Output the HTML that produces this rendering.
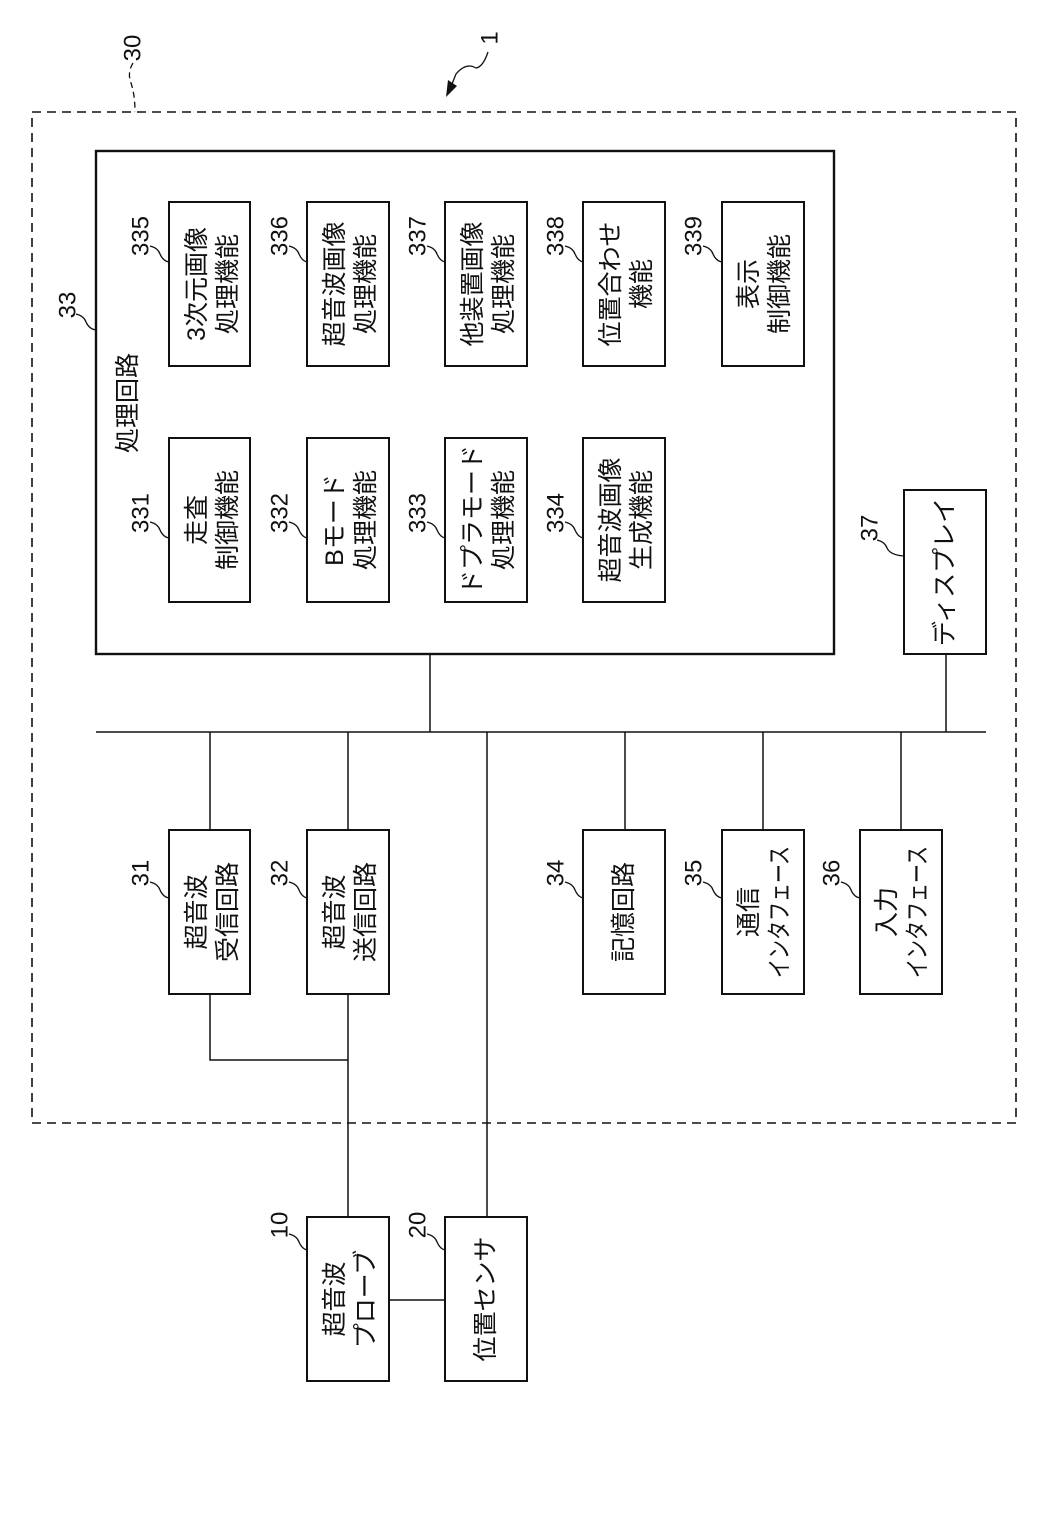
<!DOCTYPE html>
<html><head><meta charset="utf-8"><style>
html,body{margin:0;padding:0;background:#fff;}
svg{display:block}
text{font-family:"Liberation Sans","Noto Sans CJK JP",sans-serif;font-size:25px;fill:#111;}
.n{font-size:24px}
</style></head><body>
<svg width="1039" height="1528" viewBox="0 0 1039 1528" xmlns="http://www.w3.org/2000/svg">
<g fill="none" stroke="#111" stroke-width="2">
<rect x="32" y="112" width="984" height="1011" stroke-dasharray="9,6" stroke-width="1.6"/>
<rect x="96" y="151" width="738" height="503" stroke-width="2.4"/>
<rect x="169" y="202" width="81" height="164"/>
<rect x="307" y="202" width="82" height="164"/>
<rect x="445" y="202" width="82" height="164"/>
<rect x="583" y="202" width="82" height="164"/>
<rect x="722" y="202" width="82" height="164"/>
<rect x="169" y="438" width="81" height="164"/>
<rect x="307" y="438" width="82" height="164"/>
<rect x="445" y="438" width="82" height="164"/>
<rect x="583" y="438" width="82" height="164"/>
<rect x="904" y="490" width="82" height="164"/>
<rect x="169" y="830" width="81" height="164"/>
<rect x="307" y="830" width="82" height="164"/>
<rect x="583" y="830" width="82" height="164"/>
<rect x="722" y="830" width="82" height="164"/>
<rect x="860" y="830" width="82" height="164"/>
<rect x="307" y="1217" width="82" height="164"/>
<rect x="445" y="1217" width="82" height="164"/>
<g stroke-width="1.5">
<line x1="96" y1="732" x2="986" y2="732"/>
<line x1="430" y1="654" x2="430" y2="732"/>
<line x1="946" y1="654" x2="946" y2="732"/>
<line x1="210" y1="732" x2="210" y2="830"/>
<line x1="348" y1="732" x2="348" y2="830"/>
<line x1="487" y1="732" x2="487" y2="1217"/>
<line x1="625" y1="732" x2="625" y2="830"/>
<line x1="763" y1="732" x2="763" y2="830"/>
<line x1="901" y1="732" x2="901" y2="830"/>
<polyline points="210,994 210,1060 348,1060"/>
<line x1="348" y1="994" x2="348" y2="1217"/>
<line x1="389" y1="1300" x2="445" y2="1300"/>
</g>
<g stroke-width="1.3">
<path d="M150,246 q8,2 10,8 q3,7 9,8"/>
<path d="M289,246 q8,2 10,8 q3,7 8,8"/>
<path d="M427,246 q8,2 10,8 q3,7 8,8"/>
<path d="M565,246 q8,2 10,8 q3,7 8,8"/>
<path d="M703,246 q8,2 10,8 q3,7 9,8"/>
<path d="M150,522 q8,2 10,8 q3,7 9,8"/>
<path d="M289,522 q8,2 10,8 q3,7 8,8"/>
<path d="M427,522 q8,2 10,8 q3,7 8,8"/>
<path d="M565,522 q8,2 10,8 q3,7 8,8"/>
<path d="M877,540 q8,2 10,8 q3,7 17,8"/>
<path d="M150,882 q8,2 10,8 q3,7 9,8"/>
<path d="M289,882 q8,2 10,8 q3,7 8,8"/>
<path d="M565,882 q8,2 10,8 q3,7 8,8"/>
<path d="M703,882 q8,2 10,8 q3,7 9,8"/>
<path d="M841,882 q8,2 10,8 q3,7 9,8"/>
<path d="M289,1234 q8,2 10,8 q3,7 8,8"/>
<path d="M427,1234 q8,2 10,8 q3,7 8,8"/>
<path d="M76,314 q8,2 10,8 q3,7 10,8"/>
<path d="M133,63 q-6,10 -2,20 q4,12 4,29" stroke-dasharray="6,4"/>
<path d="M488,52 q-5,15 -12,16 q-10,-6 -20,6 l-8,20"/>
</g>
</g>
<polygon points="446,97 448,80 457,86" fill="#111"/>
<g text-anchor="middle" dominant-baseline="central">
<text transform="translate(197,284) rotate(-90)">3次元画像</text>
<text transform="translate(228,284) rotate(-90)">処理機能</text>
<text transform="translate(335,284) rotate(-90)">超音波画像</text>
<text transform="translate(366,284) rotate(-90)">処理機能</text>
<text transform="translate(473,284) rotate(-90)">他装置画像</text>
<text transform="translate(504,284) rotate(-90)">処理機能</text>
<text transform="translate(611,284) rotate(-90)">位置合わせ</text>
<text transform="translate(642,284) rotate(-90)">機能</text>
<text transform="translate(749,284) rotate(-90)">表示</text>
<text transform="translate(780,284) rotate(-90)">制御機能</text>
<text transform="translate(197,520) rotate(-90)">走査</text>
<text transform="translate(228,520) rotate(-90)">制御機能</text>
<text transform="translate(335,520) rotate(-90)">Bモード</text>
<text transform="translate(366,520) rotate(-90)">処理機能</text>
<text transform="translate(473,520) rotate(-90)">ドプラモード</text>
<text transform="translate(504,520) rotate(-90)">処理機能</text>
<text transform="translate(611,520) rotate(-90)">超音波画像</text>
<text transform="translate(642,520) rotate(-90)">生成機能</text>
<text transform="translate(945,572) rotate(-90)">ディスプレイ</text>
<text transform="translate(197,912) rotate(-90)">超音波</text>
<text transform="translate(228,912) rotate(-90)">受信回路</text>
<text transform="translate(335,912) rotate(-90)">超音波</text>
<text transform="translate(366,912) rotate(-90)">送信回路</text>
<text transform="translate(624,912) rotate(-90)">記憶回路</text>
<text transform="translate(749,912) rotate(-90)">通信</text>
<text transform="translate(780,912) rotate(-90)" textLength="132" lengthAdjust="spacingAndGlyphs">インタフェース</text>
<text transform="translate(887,912) rotate(-90)">入力</text>
<text transform="translate(918,912) rotate(-90)" textLength="132" lengthAdjust="spacingAndGlyphs">インタフェース</text>
<text transform="translate(335,1299) rotate(-90)">超音波</text>
<text transform="translate(366,1299) rotate(-90)">プローブ</text>
<text transform="translate(486,1299) rotate(-90)">位置センサ</text>
<text transform="translate(128,403) rotate(-90)">処理回路</text>
<g class="n">
<text class="n" transform="translate(141,236) rotate(-90)">335</text>
<text class="n" transform="translate(280,236) rotate(-90)">336</text>
<text class="n" transform="translate(418,236) rotate(-90)">337</text>
<text class="n" transform="translate(556,236) rotate(-90)">338</text>
<text class="n" transform="translate(694,236) rotate(-90)">339</text>
<text class="n" transform="translate(141,513) rotate(-90)">331</text>
<text class="n" transform="translate(280,513) rotate(-90)">332</text>
<text class="n" transform="translate(418,513) rotate(-90)">333</text>
<text class="n" transform="translate(556,513) rotate(-90)">334</text>
<text class="n" transform="translate(870,528) rotate(-90)">37</text>
<text class="n" transform="translate(141,873) rotate(-90)">31</text>
<text class="n" transform="translate(280,873) rotate(-90)">32</text>
<text class="n" transform="translate(556,873) rotate(-90)">34</text>
<text class="n" transform="translate(694,873) rotate(-90)">35</text>
<text class="n" transform="translate(832,873) rotate(-90)">36</text>
<text class="n" transform="translate(280,1225) rotate(-90)">10</text>
<text class="n" transform="translate(418,1225) rotate(-90)">20</text>
<text class="n" transform="translate(68,305) rotate(-90)">33</text>
<text class="n" transform="translate(133,48) rotate(-90)">30</text>
<text class="n" transform="translate(490,38) rotate(-90)">1</text>
</g>
</g>
</svg>
</body></html>
